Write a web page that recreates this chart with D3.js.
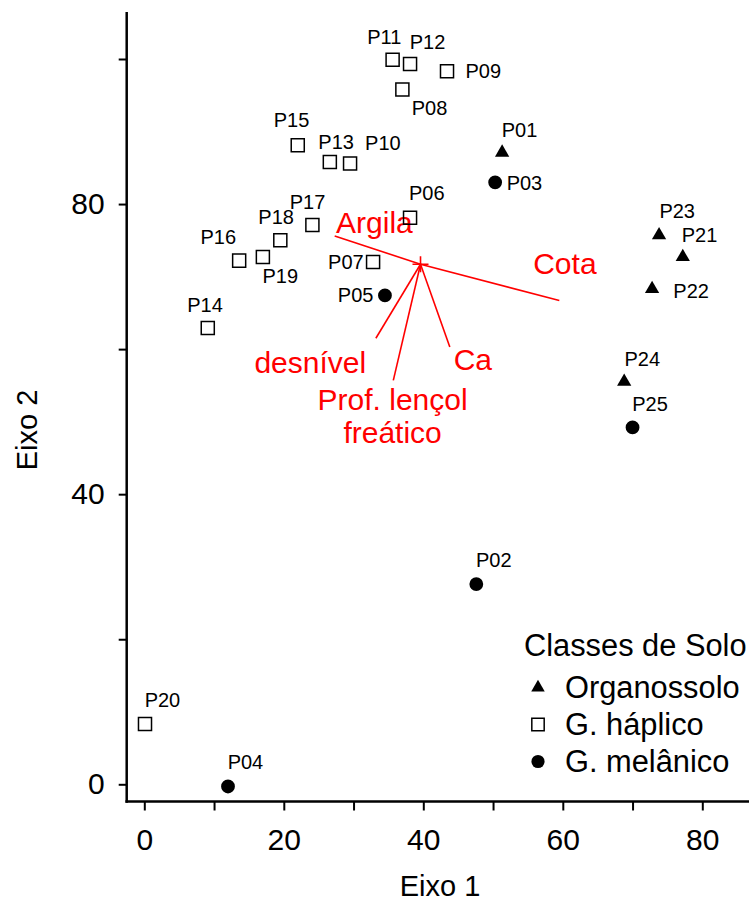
<!DOCTYPE html>
<html>
<head>
<meta charset="utf-8">
<script src="https://cdn.jsdelivr.net/npm/d3@7"></script>
<style>
  body { margin: 0; background: #fff; }
  text { font-family: "Liberation Sans", Arial, sans-serif; }
</style>
</head>
<body>
<script>
// Site scores (Eixo 1, Eixo 2) and soil class
var sites = ["P01","P02","P03","P04","P05","P06","P07","P08","P09","P10","P11","P12","P13",
             "P14","P15","P16","P17","P18","P19","P20","P21","P22","P23","P24","P25"];
var eixo1 = [51.3, 47.6, 50.3, 12.0, 34.5, 38.1, 32.8, 37.0, 43.4, 29.5, 35.6, 38.1, 26.6,
             9.1, 22.0, 13.6, 24.1, 19.5, 17.0, 0.1, 77.2, 72.8, 73.8, 68.8, 70.0];
var eixo2 = [87.1, 27.6, 83.0, -0.3, 67.4, 78.1, 72.0, 95.8, 98.3, 85.6, 99.9, 99.3, 85.8,
             62.9, 88.1, 72.2, 77.1, 75.0, 72.7, 8.3, 72.7, 68.3, 75.7, 55.5, 49.2];
var classe = ["Organossolo","G. melânico","G. melânico","G. melânico","G. melânico","G. háplico",
              "G. háplico","G. háplico","G. háplico","G. háplico","G. háplico","G. háplico",
              "G. háplico","G. háplico","G. háplico","G. háplico","G. háplico","G. háplico",
              "G. háplico","G. háplico","Organossolo","Organossolo","Organossolo","Organossolo",
              "G. melânico"];
// where each site label sits (data units)
var labelX = [53.8, 50.1, 54.5, 14.5, 30.3, 40.5, 28.9, 40.9, 48.6, 34.2, 34.4, 40.6, 27.5,
              8.7, 21.1, 10.6, 23.4, 18.9, 19.5, 2.6, 79.6, 78.4, 76.4, 71.4, 72.5];
var labelY = [90.2, 30.9, 82.9, 3.1, 67.5, 81.5, 72.0, 93.3, 98.3, 88.4, 103.1, 102.4, 88.6,
              66.1, 91.6, 75.4, 80.3, 78.2, 70.1, 11.6, 75.7, 68.0, 79.0, 58.7, 52.5];

// Environmental vectors
var vecOrigin = [39.6, 71.7];
var vecNames = ["Argila", "Cota", "desnível", "Prof. lençol|freático", "Ca"];
var vecEndX = [27.3, 59.5, 33.2, 35.7, 43.8];
var vecEndY = [75.6, 66.7, 61.5, 55.7, 60.3];
var vecLabX = [33.0, 60.3, 23.8, 35.6, 47.1];
var vecLabY = [77.4, 71.8, 58.2, 53.0, 58.5];

var classes = ["Organossolo", "G. háplico", "G. melânico"];
var xTicks = [0, 10, 20, 30, 40, 50, 60, 70, 80];
var xLabels = [0, 20, 40, 60, 80];
var yTicks = [0, 20, 40, 60, 80, 100];
var yLabels = [0, 40, 80];

var w = 749;
var h = 904;

var svg = d3.select("body")
            .append("svg")
            .attr("width", w)
            .attr("height", h);

var xScale = d3.scaleLinear().domain([0, 80]).range([144.3, 702.3]);
var yScale = d3.scaleLinear().domain([0, 100]).range([784.3, 59]);

var axisX = 126.7;
var axisY = 801.5;

// symbol shapes per class
var shapeOf = {
  "Organossolo": d3.symbolTriangle,
  "G. háplico": d3.symbolSquare,
  "G. melânico": d3.symbolCircle
};
var sizeOf = { "Organossolo": 88, "G. háplico": 170, "G. melânico": 150 };

function drawSymbol(g, cls, scale) {
  var sq = cls == "G. háplico";
  g.append("path")
    .attr("d", d3.symbol().type(shapeOf[cls]).size(sizeOf[cls] * scale)())
    .attr("fill", sq ? "none" : "#000")
    .attr("stroke", sq ? "#000" : "none")
    .attr("stroke-width", 1.5);
}

// Axes
function createAxis() {
  var yAxis = svg.append("g")
      .attr("transform", "translate(" + axisX + ",0)")
      .call(d3.axisLeft(yScale)
        .tickValues(yTicks)
        .tickSize(8)
        .tickPadding(14)
        .tickFormat(function(d) { return yLabels.indexOf(d) >= 0 ? d : ""; }));

  var xAxis = svg.append("g")
      .attr("transform", "translate(0," + axisY + ")")
      .call(d3.axisBottom(xScale)
        .tickValues(xTicks)
        .tickSize(9)
        .tickPadding(18)
        .tickFormat(function(d) { return xLabels.indexOf(d) >= 0 ? d : ""; }));

  [yAxis, xAxis].forEach(function(a) {
    a.select(".domain").remove();
    a.selectAll("line").attr("stroke", "#000").attr("stroke-width", 2);
    a.selectAll("text").attr("fill", "#000").style("font-size", "30px")
      .style("font-family", "'Liberation Sans', Arial, sans-serif");
  });

  svg.append("line")
    .attr("x1", axisX).attr("x2", axisX)
    .attr("y1", 12).attr("y2", axisY + 1.25)
    .attr("stroke", "#000").attr("stroke-width", 2.5);
  svg.append("line")
    .attr("x1", axisX - 1.25).attr("x2", w)
    .attr("y1", axisY).attr("y2", axisY)
    .attr("stroke", "#000").attr("stroke-width", 2.5);

  svg.append("text")
    .attr("x", 440).attr("y", 896)
    .attr("text-anchor", "middle")
    .style("font-size", "29px")
    .text("Eixo 1");

  svg.append("text")
    .attr("transform", "translate(37,430) rotate(-90)")
    .attr("text-anchor", "middle")
    .style("font-size", "29px")
    .text("Eixo 2");
}
createAxis();

// Vectors in red
function createVectors() {
  var ox = xScale(vecOrigin[0]), oy = yScale(vecOrigin[1]);
  var vg = svg.append("g");
  vecNames.forEach(function(name, i) {
    vg.append("line")
      .attr("x1", ox).attr("y1", oy)
      .attr("x2", xScale(vecEndX[i])).attr("y2", yScale(vecEndY[i]))
      .attr("stroke", "#ff0000").attr("stroke-width", 1.6);

    var lines = name.split("|");
    var t = vg.append("text")
      .attr("x", xScale(vecLabX[i]))
      .attr("y", yScale(vecLabY[i]))
      .attr("text-anchor", "middle")
      .attr("fill", "#ff0000")
      .style("font-size", "30px");
    lines.forEach(function(l, j) {
      t.append("tspan")
        .attr("x", xScale(vecLabX[i]))
        .attr("dy", j == 0 ? "0.35em" : "1.1em")
        .text(l);
    });
  });
  // centre cross
  vg.append("path")
    .attr("d", "M" + (ox - 8) + "," + oy + "H" + (ox + 8) + "M" + ox + "," + (oy - 8) + "V" + (oy + 8))
    .attr("stroke", "#ff0000").attr("stroke-width", 1.6);
}
createVectors();

// Site points and labels
function createPoints() {
  sites.forEach(function(s, i) {
    var g = svg.append("g")
      .attr("transform", "translate(" + xScale(eixo1[i]) + "," + yScale(eixo2[i]) + ")");
    drawSymbol(g, classe[i], 1);

    svg.append("text")
      .attr("x", xScale(labelX[i]))
      .attr("y", yScale(labelY[i]))
      .attr("dy", "0.35em")
      .attr("text-anchor", "middle")
      .style("font-size", "20px")
      .text(s);
  });
}
createPoints();

// Legend
function createLegend() {
  svg.append("text")
    .attr("x", 524).attr("y", 656)
    .style("font-size", "30.8px")
    .text("Classes de Solo");

  var legend = svg.selectAll(".legend")
    .data(classes)
    .enter()
    .append("g")
    .attr("class", "legend")
    .attr("transform", function(d, i) {
      return "translate(0," + (698 + i * 37) + ")";
    });

  legend.each(function(d) {
    var g = d3.select(this).append("g").attr("transform", "translate(538,-10.5)");
    drawSymbol(g, d, 0.9);
  });

  legend.append("text")
    .attr("x", 565)
    .attr("y", 0)
    .style("font-size", "30.8px")
    .text(function(d) { return d; });
}
createLegend();
</script>
</body>
</html>
